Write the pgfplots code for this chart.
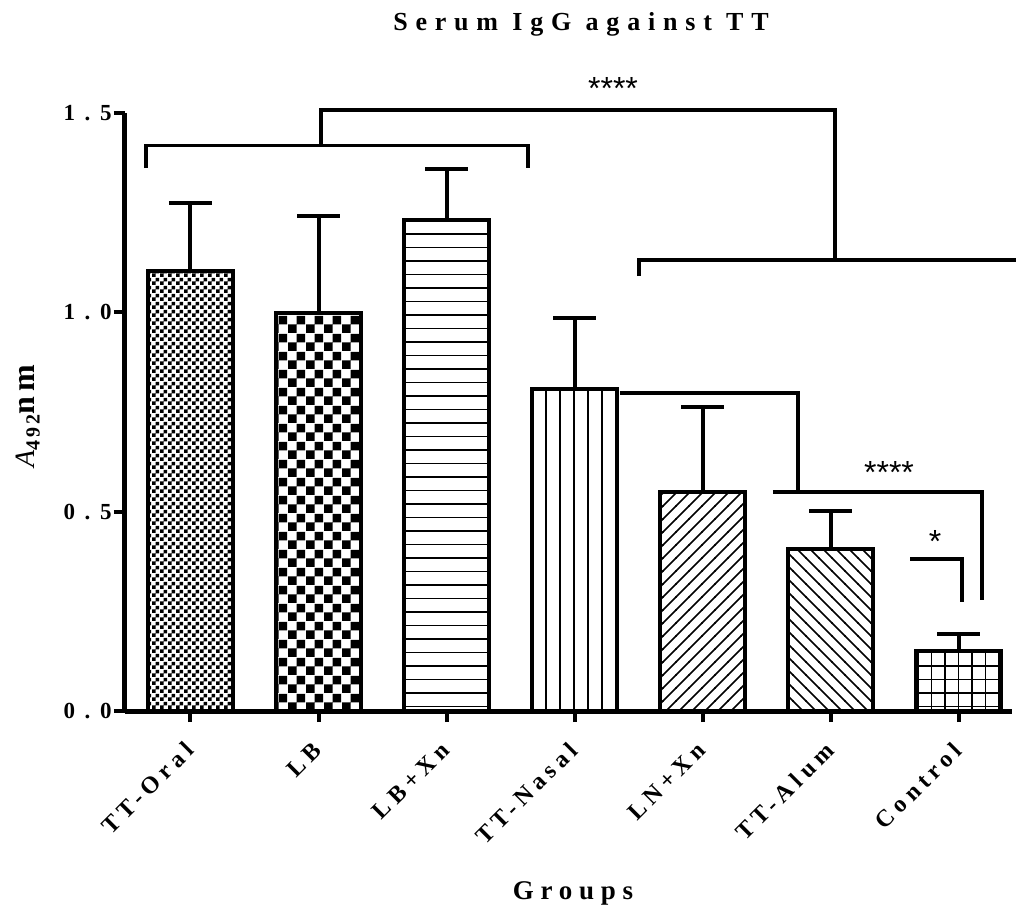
\documentclass[border=0pt]{standalone}
\usepackage{fontspec}
\setmainfont{Liberation Serif}
\newfontfamily\tickfont[LetterSpace=22]{Liberation Serif}
\newfontfamily\ytickfont[LetterSpace=42]{Liberation Serif}
\newfontfamily\titlefont[LetterSpace=30]{Liberation Serif}
\newfontfamily\groupfont[LetterSpace=25]{Liberation Serif}
\newfontfamily\labfont[LetterSpace=15]{Liberation Serif}
\newfontfamily\starfont{Liberation Sans}
\usepackage{pgfplots}
\pgfplotsset{compat=1.18}
\usetikzlibrary{patterns}

\pgfdeclarepatternformonly{finecheck}{\pgfpointorigin}{\pgfpoint{4pt}{4pt}}{\pgfpoint{4pt}{4pt}}{%
  \pgfpathrectangle{\pgfpointorigin}{\pgfpoint{2pt}{2pt}}%
  \pgfpathrectangle{\pgfpoint{2pt}{2pt}}{\pgfpoint{2pt}{2pt}}%
  \pgfusepath{fill}}
\pgfdeclarepatternformonly{coarsecheck}{\pgfpointorigin}{\pgfpoint{9pt}{9pt}}{\pgfpoint{9pt}{9pt}}{%
  \pgfpathrectangle{\pgfpointorigin}{\pgfpoint{4.5pt}{4.5pt}}%
  \pgfpathrectangle{\pgfpoint{4.5pt}{4.5pt}}{\pgfpoint{4.5pt}{4.5pt}}%
  \pgfusepath{fill}}
\pgfdeclarepatternformonly{hlines}{\pgfpoint{-1pt}{-1pt}}{\pgfpoint{7.75pt}{7.75pt}}{\pgfpoint{6.75pt}{6.75pt}}{%
  \pgfsetlinewidth{0.7pt}%
  \pgfpathmoveto{\pgfpoint{-0.5pt}{0pt}}\pgfpathlineto{\pgfpoint{7.25pt}{0pt}}%
  \pgfusepath{stroke}}
\pgfdeclarepatternformonly{vlines}{\pgfpoint{-1pt}{-1pt}}{\pgfpoint{7.75pt}{7.75pt}}{\pgfpoint{7pt}{7pt}}{%
  \pgfsetlinewidth{0.7pt}%
  \pgfpathmoveto{\pgfpoint{0pt}{-0.5pt}}\pgfpathlineto{\pgfpoint{0pt}{7.5pt}}%
  \pgfusepath{stroke}}
\pgfdeclarepatternformonly{nelines}{\pgfpoint{-1pt}{-1pt}}{\pgfpoint{7.5pt}{7.5pt}}{\pgfpoint{6.5pt}{6.5pt}}{%
  \pgfsetlinewidth{0.85pt}%
  \pgfpathmoveto{\pgfpoint{-0.2pt}{-0.2pt}}\pgfpathlineto{\pgfpoint{6.7pt}{6.7pt}}%
  \pgfusepath{stroke}}
\pgfdeclarepatternformonly{nwlines}{\pgfpoint{-1pt}{-1pt}}{\pgfpoint{7.5pt}{7.5pt}}{\pgfpoint{6.5pt}{6.5pt}}{%
  \pgfsetlinewidth{0.85pt}%
  \pgfpathmoveto{\pgfpoint{-0.2pt}{6.7pt}}\pgfpathlineto{\pgfpoint{6.7pt}{-0.2pt}}%
  \pgfusepath{stroke}}
\pgfdeclarepatternformonly{mygrid}{\pgfpoint{-1pt}{-1pt}}{\pgfpoint{7.75pt}{7.75pt}}{\pgfpoint{6.75pt}{6.75pt}}{%
  \pgfsetlinewidth{0.6pt}%
  \pgfpathmoveto{\pgfpoint{-0.5pt}{0pt}}\pgfpathlineto{\pgfpoint{7.25pt}{0pt}}%
  \pgfpathmoveto{\pgfpoint{0pt}{-0.5pt}}\pgfpathlineto{\pgfpoint{0pt}{7.25pt}}%
  \pgfusepath{stroke}}

\begin{document}
\begin{tikzpicture}
\begin{axis}[
  at={(0,0)}, anchor=south west,
  scale only axis,
  width=443.5pt, height=299pt,
  xmin=-0.511, xmax=6.414,
  ymin=0, ymax=1.5,
  clip=false,
  axis x line*=bottom, axis y line*=left,
  axis line style={line width=2.5pt},
  ybar, bar width=42.5pt, bar shift=0pt,
  xtick={0,1,2,3,4,5,6},
  xticklabels={TT-Oral,LB,LB+Xn,TT-Nasal,LN+Xn,TT-Alum,Control},
  ytick={0,0.5,1,1.5},
  yticklabels={0.0,0.5,1.0,1.5},
  tick align=outside,
  major tick length=5.5pt,
  tick style={line width=2pt, black},
  xticklabel style={font=\tickfont\bfseries\fontsize{12pt}{14pt}\selectfont, rotate=45, anchor=east, inner sep=1pt, yshift=-8.2pt, xshift=-7.9pt},
  yticklabel style={font=\ytickfont\bfseries\fontsize{11.5pt}{13pt}\selectfont, anchor=east, inner sep=1pt, xshift=0pt},
  mybar/.style={draw=black, line width=2pt,
    error bars/.cd, y dir=plus, y explicit,
    error bar style={line width=2pt, black},
    error mark=-,
    error mark options={rotate=90, line width=2pt, mark size=10.75pt, black}},
]
\addplot[pattern=finecheck, mybar] coordinates {(0,1.104) +- (0,0.170)};
\addplot[pattern=coarsecheck, mybar] coordinates {(1,0.998) +- (0,0.244)};
\addplot[pattern=hlines, mybar] coordinates {(2,1.231) +- (0,0.128)};
\addplot[pattern=vlines, mybar] coordinates {(3,0.808) +- (0,0.178)};
\addplot[pattern=nelines, mybar] coordinates {(4,0.549) +- (0,0.213)};
\addplot[pattern=nwlines, mybar] coordinates {(5,0.406) +- (0,0.096)};
\addplot[pattern=mygrid, mybar] coordinates {(6,0.150) +- (0,0.043)};

% significance brackets
\draw[line width=1.8pt, line join=miter] (axis cs:-0.347,1.362) -- (axis cs:-0.347,1.418) -- (axis cs:2.635,1.418) -- (axis cs:2.635,1.362);
\draw[line width=1.8pt, line join=miter] (axis cs:1.019,1.418) -- (axis cs:1.019,1.507) -- (axis cs:5.032,1.507) -- (axis cs:5.032,1.131);
\draw[line width=1.8pt, line join=miter] (axis cs:3.502,1.091) -- (axis cs:3.502,1.131) -- (axis cs:6.445,1.131);
\draw[line width=1.8pt, line join=miter] (axis cs:3.353,0.798) -- (axis cs:4.744,0.798) -- (axis cs:4.744,0.549);
\draw[line width=1.8pt, line join=miter] (axis cs:4.547,0.549) -- (axis cs:6.180,0.549) -- (axis cs:6.180,0.278);
\draw[line width=1.8pt, line join=miter] (axis cs:5.618,0.381) -- (axis cs:6.023,0.381) -- (axis cs:6.023,0.273);
\node[font=\starfont\fontsize{16pt}{18pt}\selectfont] at (axis cs:3.299,1.562) {****};
\node[font=\starfont\fontsize{16pt}{18pt}\selectfont] at (axis cs:5.454,0.599) {****};
\node[font=\starfont\fontsize{16pt}{18pt}\selectfont] at (axis cs:5.813,0.424) {*};

% titles
\node[font=\titlefont\bfseries\fontsize{13pt}{15pt}\selectfont] at (axis cs:3.049,1.722) {Serum IgG against TT};
\node[font=\groupfont\bfseries\fontsize{13.5pt}{16pt}\selectfont] at (axis cs:2.986,-0.4565) {Groups};
\node[rotate=90, inner sep=0pt] at (axis cs:-1.269,0.740) {{\fontsize{14pt}{16pt}\selectfont\itshape A}\raisebox{-2.5pt}{\labfont\bfseries\fontsize{10pt}{12pt}\selectfont 492}{\labfont\bfseries\fontsize{16pt}{18pt}\selectfont nm}};
\end{axis}
\pgfresetboundingbox
\useasboundingbox (-62.5pt,-99pt) rectangle (445.5pt,355.5pt);
\end{tikzpicture}
\end{document}
